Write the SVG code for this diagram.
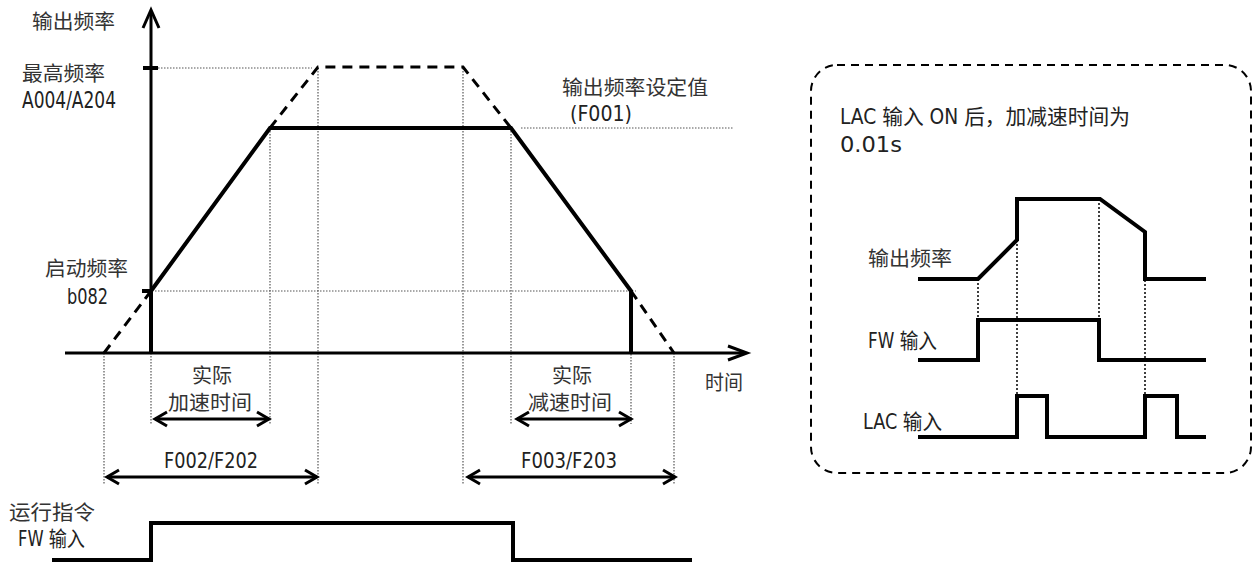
<svg xmlns="http://www.w3.org/2000/svg" width="1254" height="562" viewBox="0 0 1254 562">
<style>
.t{font-family:"Liberation Sans Narrow","DejaVu Sans Condensed","Noto Sans CJK SC",sans-serif;font-size:21px;fill:#222}
.c{font-family:"Noto Sans CJK SC",sans-serif;font-size:20px;fill:#333}
.ax{stroke:#000;stroke-width:3;fill:none}
.sig{stroke:#000;stroke-width:4;fill:none;stroke-linejoin:miter}
.dash{stroke:#000;stroke-width:3;fill:none;stroke-dasharray:10 7}
.dot{stroke:#555;stroke-width:1.2;fill:none;stroke-dasharray:1.5 1.5}
.dotk{stroke:#000;stroke-width:1.5;fill:none;stroke-dasharray:2 2}
.dim{stroke:#000;stroke-width:3;fill:none}
</style>
<rect width="1254" height="562" fill="#fff"/>

<g id="guides">
<line class="dot" x1="158" y1="68" x2="312" y2="68"/>
<line class="dot" x1="155" y1="291" x2="636" y2="291"/>
<line class="dot" x1="521" y1="128" x2="734" y2="128"/>
<line class="dot" x1="104" y1="353" x2="104" y2="484"/>
<line class="dot" x1="151" y1="353" x2="151" y2="424"/>
<line class="dot" x1="270" y1="128" x2="270" y2="424"/>
<line class="dot" x1="318" y1="68" x2="318" y2="484"/>
<line class="dot" x1="463" y1="68" x2="463" y2="484"/>
<line class="dot" x1="511" y1="128" x2="511" y2="424"/>
<line class="dot" x1="631" y1="291" x2="631" y2="424"/>
<line class="dot" x1="674" y1="353" x2="674" y2="484"/>
</g>

<g id="axes">
<line class="ax" x1="151" y1="11" x2="151" y2="353"/>
<polyline class="ax" points="143,28 151,10 159,28"/>
<line class="ax" x1="65" y1="353" x2="746" y2="353"/>
<polyline class="ax" points="728,346 747,353 728,360"/>
<line stroke="#000" stroke-width="4" x1="143" y1="68" x2="158" y2="68"/>
<line stroke="#000" stroke-width="4" x1="142" y1="291" x2="151" y2="291"/>
</g>

<g id="curve">
<polyline class="dash" points="104,353 151,291"/>
<polyline class="dash" points="270,128 318,67 463,67 511,128"/>
<polyline class="dash" points="631,291 674,353"/>
<polyline class="sig" points="151,353 151,291 270,128 511,128 631,291 631,353"/>
</g>

<g id="dimensions">
<line class="dim" x1="155" y1="419" x2="269" y2="419"/>
<polyline class="dim" points="167,412 155,419 167,426"/>
<polyline class="dim" points="257,412 269,419 257,426"/>
<line class="dim" x1="107" y1="477" x2="317" y2="477"/>
<polyline class="dim" points="119,470 107,477 119,484"/>
<polyline class="dim" points="305,470 317,477 305,484"/>
<line class="dim" x1="517" y1="419" x2="631" y2="419"/>
<polyline class="dim" points="529,412 517,419 529,426"/>
<polyline class="dim" points="619,412 631,419 619,426"/>
<line class="dim" x1="468" y1="477" x2="675" y2="477"/>
<polyline class="dim" points="480,470 468,477 480,484"/>
<polyline class="dim" points="663,470 675,477 663,484"/>
</g>

<g id="run-command">
<polyline class="sig" points="52,560 151,560 151,523 513,523 513,560 692,560"/>
</g>

<g id="labels">
<text class="c" x="32" y="29" textLength="83" lengthAdjust="spacingAndGlyphs">输出频率</text>
<text class="c" x="22" y="81" textLength="83" lengthAdjust="spacingAndGlyphs">最高频率</text>
<text class="t" x="22" y="108" style="font-size:23px" textLength="94" lengthAdjust="spacingAndGlyphs">A004/A204</text>
<text class="c" x="562" y="95" textLength="146" lengthAdjust="spacingAndGlyphs">输出频率设定值</text>
<text class="t" x="570" y="121" textLength="62" lengthAdjust="spacingAndGlyphs">(F001)</text>
<text class="c" x="45" y="276" textLength="83" lengthAdjust="spacingAndGlyphs">启动频率</text>
<text class="t" x="67" y="304" textLength="41" lengthAdjust="spacingAndGlyphs">b082</text>
<text class="c" x="192" y="383" textLength="40" lengthAdjust="spacingAndGlyphs">实际</text>
<text class="c" x="168" y="410" textLength="84" lengthAdjust="spacingAndGlyphs">加速时间</text>
<text class="c" x="552" y="383" textLength="40" lengthAdjust="spacingAndGlyphs">实际</text>
<text class="c" x="528" y="410" textLength="84" lengthAdjust="spacingAndGlyphs">减速时间</text>
<text class="c" x="705" y="390" textLength="38" lengthAdjust="spacingAndGlyphs">时间</text>
<text class="t" x="164" y="468" textLength="94" lengthAdjust="spacingAndGlyphs">F002/F202</text>
<text class="t" x="521" y="468" textLength="96" lengthAdjust="spacingAndGlyphs">F003/F203</text>
<text class="c" x="9" y="520" textLength="86" lengthAdjust="spacingAndGlyphs">运行指令</text>
<text class="t" x="18" y="546" textLength="67" lengthAdjust="spacingAndGlyphs">FW 输入</text>
</g>

<g id="lac-box">
<rect x="811" y="65" width="440" height="408" rx="26" ry="26" fill="none" stroke="#000" stroke-width="2" stroke-dasharray="8 6"/>
<text class="t" x="840" y="124" textLength="290" lengthAdjust="spacingAndGlyphs">LAC 输入 ON 后，加减速时间为</text>
<text class="t" x="840" y="152" textLength="62" lengthAdjust="spacingAndGlyphs">0.01s</text>
<text class="c" x="868" y="266" textLength="84" lengthAdjust="spacingAndGlyphs">输出频率</text>
<text class="t" x="868" y="348" textLength="69" lengthAdjust="spacingAndGlyphs">FW 输入</text>
<text class="t" x="863" y="429" textLength="79" lengthAdjust="spacingAndGlyphs">LAC 输入</text>
<line class="dotk" x1="978" y1="279" x2="978" y2="318"/>
<line class="dotk" x1="1017" y1="240" x2="1017" y2="396"/>
<line class="dotk" x1="1099" y1="199" x2="1099" y2="318"/>
<line class="dotk" x1="1145" y1="232" x2="1145" y2="396"/>
<polyline class="sig" points="918,279 978,279 1017,240 1017,199 1100,199 1145,232 1145,279 1206,279"/>
<polyline class="sig" points="918,360 978,360 978,320 1099,320 1099,360 1206,360"/>
<polyline class="sig" points="918,437 1017,437 1017,396 1047,396 1047,437 1145,437 1145,396 1177,396 1177,437 1206,437"/>
</g>
</svg>
